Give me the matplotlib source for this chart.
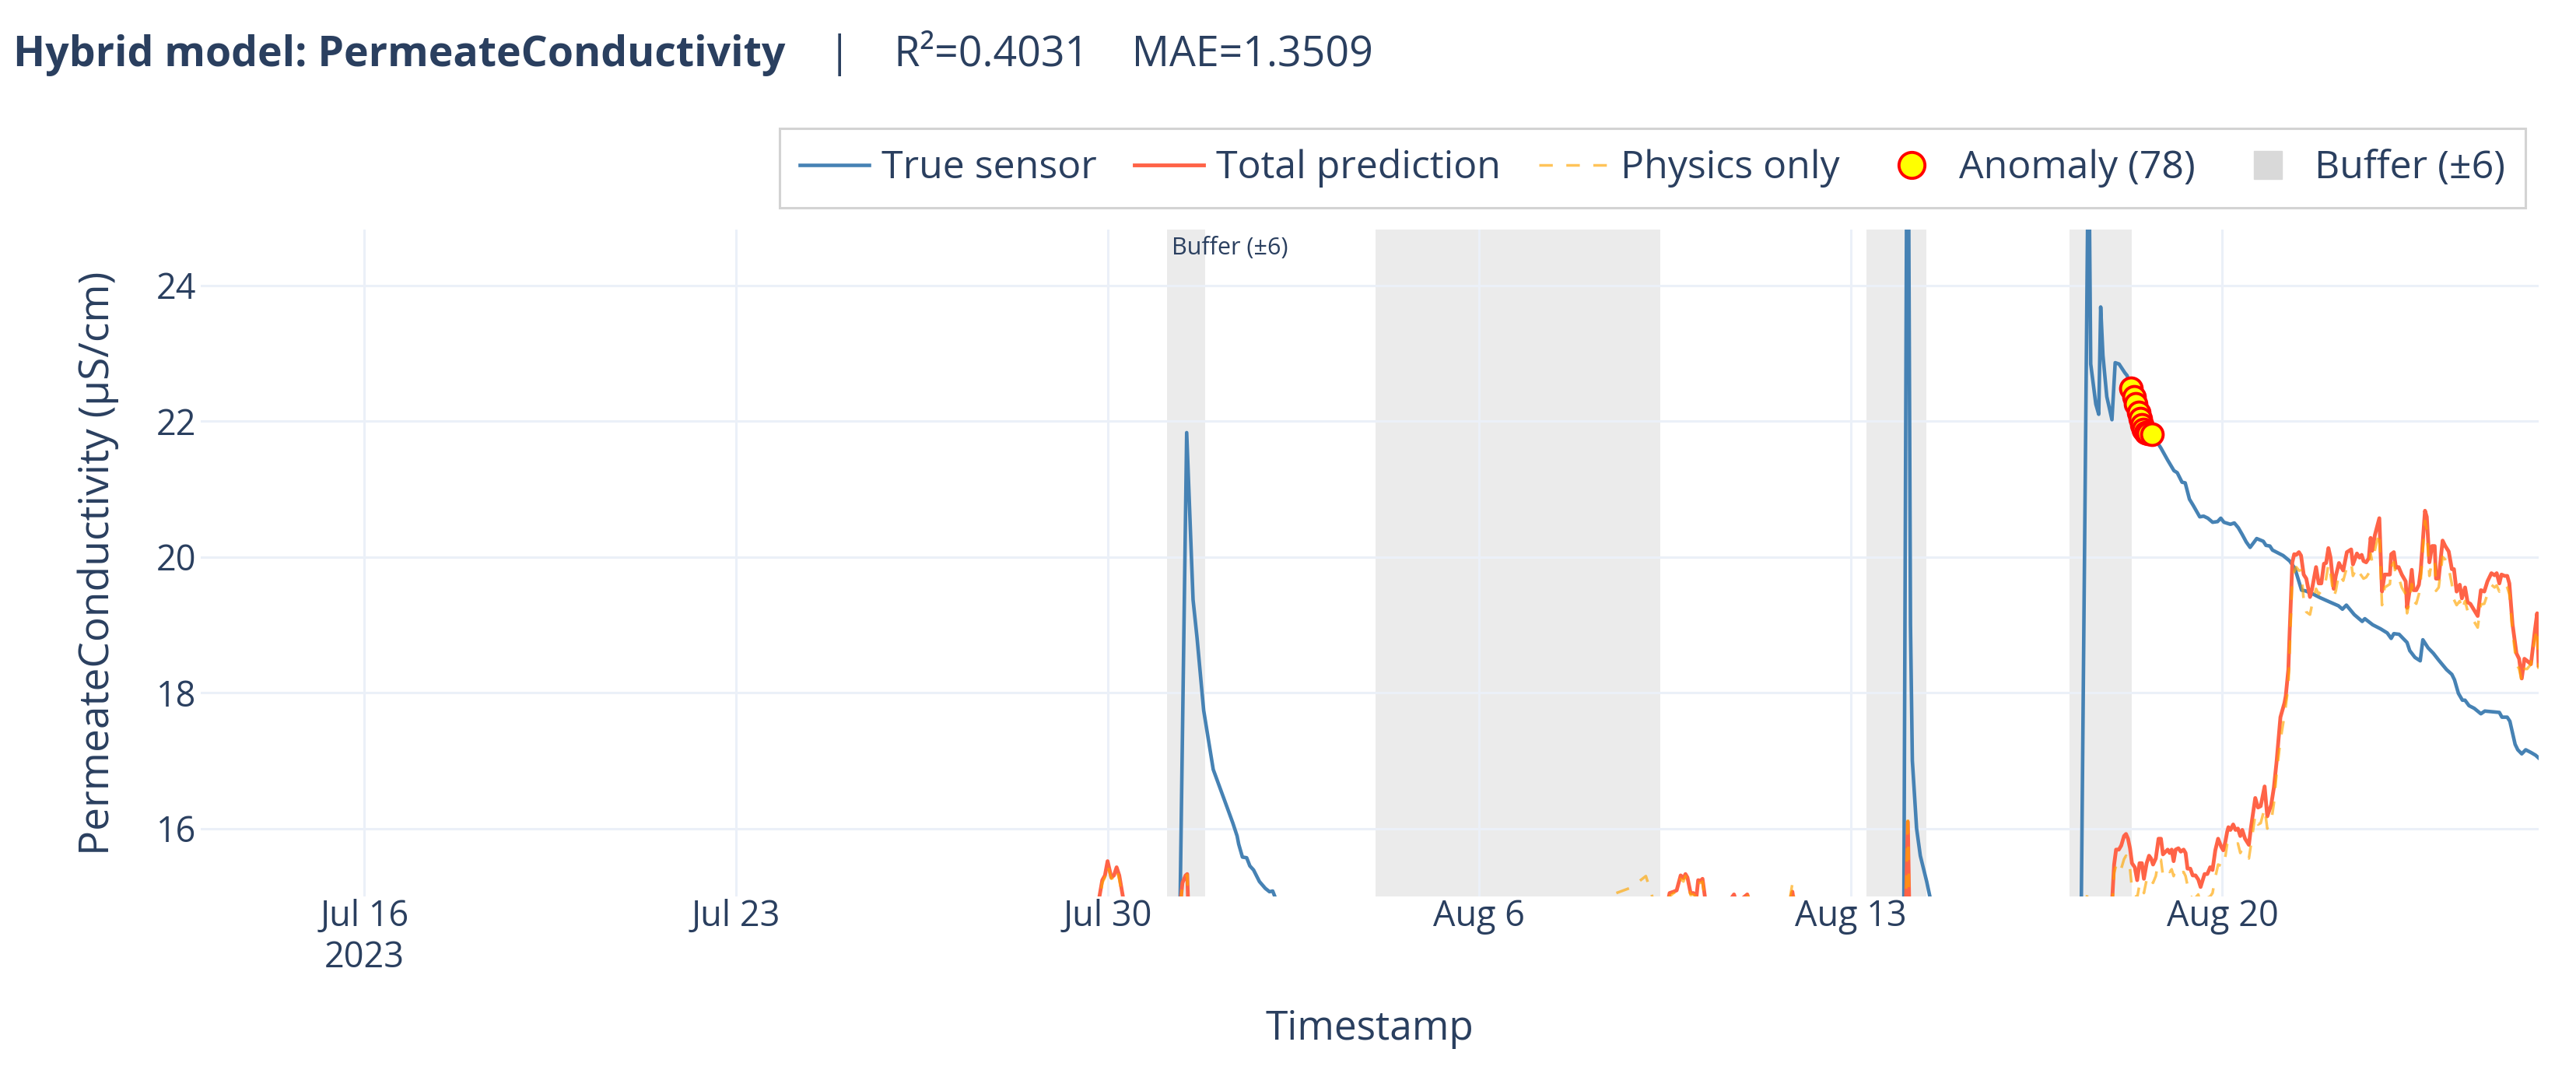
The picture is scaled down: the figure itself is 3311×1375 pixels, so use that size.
import matplotlib
matplotlib.use("Agg")
import matplotlib.pyplot as plt
import matplotlib.dates as mdates
from matplotlib.lines import Line2D
import pandas as pd

plt.rcParams['font.family'] = ['Open Sans', 'DejaVu Sans']

# ---------------- data (time = days after 2023-07-30 00:00) ----------------
T0 = pd.Timestamp('2023-07-30')

true_days = [-17.08, -10.0, -3.0, 1.33, 1.49, 1.61, 1.685, 1.81, 1.99, 2.07, 2.15, 2.29,
             2.36, 2.44, 2.47, 2.54, 2.62, 2.68, 2.75, 2.86, 2.97, 3.05, 3.11, 3.25,
             4.0, 8.0, 12.0, 14.9, 14.99, 15.07, 15.125, 15.16, 15.24, 15.31, 15.43,
             15.49, 15.6, 17.0, 18.33, 18.48, 18.52, 18.616, 18.671, 18.708, 18.75,
             18.823, 18.92, 18.981, 19.054, 19.164, 19.206, 19.285, 19.33, 19.37, 19.42,
             19.45, 19.49, 19.52, 19.56, 19.60, 19.674, 19.845, 19.966, 20.088, 20.15,
             20.24, 20.3, 20.38, 20.45, 20.574, 20.647, 20.726, 20.817, 20.909, 20.97,
             21.03, 21.152, 21.225, 21.30, 21.374, 21.45, 21.523, 21.647, 21.771, 21.821,
             21.895, 21.945, 22.07, 22.144, 22.268, 22.367, 22.492, 22.566, 22.69, 22.84,
             23.04, 23.187, 23.262, 23.336, 23.485, 23.634, 23.684, 23.833, 23.982, 24.106,
             24.18, 24.23, 24.33, 24.479, 24.53, 24.628, 24.727, 24.777, 24.876, 24.975,
             25.075, 25.224, 25.323, 25.373, 25.447, 25.522, 25.571, 25.646, 25.745, 25.87,
             25.944, 26.218, 26.267, 26.366, 26.416, 26.515, 26.565, 26.64, 26.714, 26.813,
             26.90, 26.957]
true_vals = [12.0, 12.5, 13.0, 12.9, 21.83, 19.37, 18.81, 17.74, 16.87, 16.7, 16.53, 16.23,
             16.08, 15.89, 15.77, 15.58, 15.57, 15.45, 15.39, 15.22, 15.12, 15.07, 15.08, 14.8,
             14.0, 13.5, 13.2, 13.0, 12.8, 29.0, 19.0, 17.0, 16.0, 15.6, 15.22,
             15.0, 14.5, 13.5, 13.8, 26.5, 22.84, 22.25, 22.10, 23.68, 22.97,
             22.36, 22.02, 22.86, 22.84, 22.71, 22.67, 22.48, 22.36, 22.25, 22.13,
             22.04, 21.94, 21.87, 21.83, 21.82, 21.81, 21.6, 21.43, 21.27, 21.24,
             21.1, 21.09, 20.85, 20.76, 20.59, 20.6, 20.57, 20.51, 20.52, 20.57,
             20.51, 20.48, 20.5, 20.43, 20.33, 20.22, 20.14, 20.27, 20.23, 20.17,
             20.16, 20.10, 20.05, 20.02, 19.94, 19.83, 19.51, 19.50, 19.46, 19.40,
             19.33, 19.28, 19.23, 19.29, 19.15, 19.05, 19.09, 19.00, 18.94, 18.88,
             18.80, 18.87, 18.86, 18.74, 18.62, 18.52, 18.47, 18.78, 18.66, 18.58,
             18.48, 18.34, 18.27, 18.19, 17.99, 17.89, 17.89, 17.81, 17.77, 17.69,
             17.73, 17.71, 17.64, 17.64, 17.58, 17.24, 17.16, 17.10, 17.16, 17.12,
             17.08, 17.04]

pred_days = [-17.08, -12.0, -6.0, -1.0, -0.22, -0.10, -0.05, 0.0, 0.07, 0.12, 0.17, 0.22,
             0.31, 0.60, 1.20, 1.36, 1.41, 1.47, 1.50, 1.53, 2.50, 5.00, 9.20, 9.41,
             9.86, 10.14, 10.25, 10.35, 10.50, 10.587, 10.662, 10.72, 10.796, 10.848, 10.886, 10.923,
             10.983, 11.035, 11.095, 11.125, 11.17, 11.207, 11.26, 11.50, 11.80, 11.85, 12.05, 12.10,
             12.85, 12.90, 12.95, 14.90, 15.03, 15.075, 15.11, 16.00, 18.30, 18.47, 18.50, 18.88,
             18.90, 18.961, 18.998, 19.05, 19.095, 19.148, 19.185, 19.223, 19.26, 19.297, 19.35, 19.395,
             19.44, 19.484, 19.522, 19.574, 19.619, 19.656, 19.694, 19.746, 19.798, 19.843, 19.881, 19.933,
             19.97, 20.008, 20.045, 20.082, 20.12, 20.172, 20.217, 20.27, 20.307, 20.344, 20.396, 20.441,
             20.494, 20.546, 20.59, 20.665, 20.717, 20.77, 20.815, 20.867, 20.92, 20.98, 21.017, 21.055,
             21.09, 21.114, 21.152, 21.204, 21.248, 21.293, 21.338, 21.375, 21.428, 21.50, 21.54, 21.62,
             21.672, 21.722, 21.796, 21.846, 21.92, 21.97, 22.02, 22.094, 22.17, 22.194, 22.243, 22.268,
             22.318, 22.353, 22.392, 22.442, 22.482, 22.532, 22.581, 22.651, 22.69, 22.765, 22.815, 22.864,
             22.914, 22.954, 22.998, 23.038, 23.098, 23.137, 23.197, 23.237, 23.277, 23.346, 23.426, 23.46,
             23.535, 23.585, 23.624, 23.659, 23.709, 23.758, 23.793, 23.823, 23.873, 23.957, 24.007, 24.057,
             24.156, 24.181, 24.23, 24.27, 24.32, 24.38, 24.454, 24.479, 24.529, 24.568, 24.603, 24.653,
             24.702, 24.737, 24.777, 24.817, 24.851, 24.90, 24.951, 25.00, 25.025, 25.075, 25.149, 25.199,
             25.264, 25.323, 25.363, 25.413, 25.472, 25.512, 25.572, 25.621, 25.671, 25.74, 25.81, 25.87,
             25.934, 25.994, 26.068, 26.128, 26.168, 26.218, 26.258, 26.317, 26.367, 26.406, 26.466, 26.54,
             26.59, 26.64, 26.69, 26.74, 26.813, 26.888, 26.93, 26.957]
total_vals = [13.2, 13.6, 13.9, 14.2, 14.7, 15.24, 15.31, 15.52, 15.28, 15.31, 15.43, 15.31,
              14.90, 14.30, 14.20, 14.80, 15.20, 15.31, 15.33, 14.60, 14.00, 14.10, 14.50, 14.70,
              14.80, 14.85, 14.80, 14.60, 14.70, 15.05, 15.07, 15.09, 15.31, 15.27, 15.33, 15.28,
              15.05, 15.05, 15.01, 15.24, 15.23, 15.26, 14.95, 14.70, 15.03, 14.90, 15.03, 14.90,
              14.90, 15.07, 14.80, 14.50, 14.60, 16.10, 14.50, 14.20, 14.30, 14.60, 14.40, 14.30,
              14.60, 15.47, 15.69, 15.69, 15.75, 15.89, 15.92, 15.85, 15.71, 15.49, 15.43, 15.24,
              15.49, 15.49, 15.26, 15.49, 15.60, 15.56, 15.47, 15.56, 15.85, 15.85, 15.62, 15.66,
              15.69, 15.64, 15.69, 15.52, 15.69, 15.71, 15.66, 15.69, 15.64, 15.41, 15.41, 15.31,
              15.31, 15.25, 15.14, 15.33, 15.33, 15.43, 15.39, 15.68, 15.85, 15.73, 15.68, 15.80,
              15.95, 16.02, 15.98, 16.06, 15.98, 16.00, 15.89, 15.98, 15.85, 15.76, 16.02, 16.45,
              16.31, 16.33, 16.62, 16.18, 16.35, 16.60, 16.97, 17.64, 17.85, 17.95, 18.34, 18.90,
              19.92, 20.04, 20.03, 20.07, 20.02, 19.74, 19.68, 19.41, 19.53, 19.85, 19.61, 19.61,
              19.90, 19.91, 20.13, 19.99, 19.53, 19.72, 19.91, 19.85, 19.80, 20.07, 20.11, 19.89,
              20.05, 19.99, 20.03, 19.94, 19.92, 19.98, 20.28, 20.09, 20.32, 20.57, 19.49, 19.74,
              19.74, 20.04, 20.07, 19.84, 19.85, 19.74, 19.64, 19.25, 19.51, 19.81, 19.51, 19.51,
              19.59, 19.80, 20.24, 20.68, 20.59, 19.92, 20.16, 20.16, 19.68, 19.68, 20.24, 20.16,
              20.08, 19.82, 19.82, 19.49, 19.59, 19.39, 19.55, 19.33, 19.31, 19.22, 19.13, 19.51,
              19.49, 19.64, 19.76, 19.73, 19.76, 19.61, 19.74, 19.72, 19.72, 19.61, 19.01, 18.58,
              18.50, 18.21, 18.50, 18.47, 18.42, 18.92, 19.17, 18.40]
phys_vals = [13.1, 13.5, 13.8, 14.1, 14.6, 15.20, 15.28, 15.46, 15.26, 15.28, 15.40, 15.25,
             14.85, 14.25, 14.15, 14.75, 15.18, 15.28, 15.32, 14.55, 13.95, 14.10, 14.70, 15.00,
             15.13, 15.30, 15.03, 14.70, 14.60, 15.00, 15.05, 15.07, 15.26, 15.22, 15.30, 15.22,
             15.02, 15.03, 14.98, 15.20, 15.20, 15.22, 14.90, 14.65, 15.02, 14.85, 15.05, 14.85,
             14.95, 15.19, 14.85, 14.50, 14.60, 16.22, 14.50, 14.10, 14.30, 15.10, 14.40, 14.20,
             14.50, 15.35, 15.45, 15.35, 15.41, 15.55, 15.60, 15.50, 15.41, 15.12, 15.05, 14.98,
             15.18, 15.18, 15.05, 15.25, 15.31, 15.24, 15.20, 15.30, 15.54, 15.54, 15.31, 15.38,
             15.40, 15.36, 15.40, 15.30, 15.41, 15.39, 15.35, 15.36, 15.30, 15.16, 15.00, 14.98,
             14.98, 15.03, 14.90, 14.98, 14.98, 15.00, 15.05, 15.28, 15.47, 15.45, 15.43, 15.58,
             15.77, 15.80, 15.76, 15.80, 15.77, 15.78, 15.64, 15.70, 15.60, 15.56, 15.77, 16.20,
             16.06, 16.08, 16.30, 16.00, 16.10, 16.37, 16.80, 17.30, 17.67, 17.80, 18.10, 18.60,
             19.70, 19.78, 19.85, 19.80, 19.80, 19.37, 19.19, 19.15, 19.30, 19.53, 19.45, 19.50,
             19.53, 19.68, 19.90, 19.75, 19.41, 19.50, 19.76, 19.70, 19.65, 19.85, 19.92, 19.72,
             19.85, 19.76, 19.72, 19.68, 19.70, 19.76, 20.05, 19.92, 20.10, 20.37, 19.29, 19.55,
             19.60, 19.85, 19.92, 19.70, 19.70, 19.55, 19.45, 19.17, 19.35, 19.60, 19.35, 19.31,
             19.45, 19.65, 20.10, 20.53, 20.40, 19.72, 19.95, 19.95, 19.50, 19.55, 20.00, 19.96,
             19.84, 19.60, 19.37, 19.29, 19.35, 19.21, 19.35, 19.20, 19.15, 19.05, 18.96, 19.30,
             19.31, 19.45, 19.59, 19.55, 19.58, 19.49, 19.55, 19.61, 19.55, 19.45, 18.90, 18.42,
             18.35, 18.17, 18.35, 18.35, 18.42, 18.80, 18.95, 18.35]

anom_days = [19.285, 19.33, 19.37, 19.42, 19.45, 19.49, 19.52, 19.56, 19.60, 19.674]
anom_vals = [22.48, 22.36, 22.25, 22.13, 22.04, 21.94, 21.87, 21.83, 21.82, 21.81]

buffer_start = ['2023-07-31 03:00', '2023-08-04 01:00', '2023-08-13 07:00', '2023-08-17 03:00']
buffer_end = ['2023-07-31 20:00', '2023-08-09 10:00', '2023-08-14 10:00', '2023-08-18 07:00']

tick_dates = ['2023-07-16', '2023-07-23', '2023-07-30', '2023-08-06', '2023-08-13', '2023-08-20']
tick_labels = ['Jul 16\n2023', 'Jul 23', 'Jul 30', 'Aug 6', 'Aug 13', 'Aug 20']
y_ticks = [16, 18, 20, 22, 24]

TXT = '#2a3f5f'
W, H = 3311, 1375


def to_time(days):
    return T0 + pd.to_timedelta(days, unit='D')


fig = plt.figure(figsize=(W / 100, H / 100), dpi=100)
ax = fig.add_axes([258 / W, 1 - 1152 / H, (3263 - 258) / W, (1152 - 295) / H])

for s, e in zip(buffer_start, buffer_end):
    ax.axvspan(pd.Timestamp(s), pd.Timestamp(e), facecolor='lightgrey', alpha=0.45, lw=0, zorder=0.3)

ax.plot(to_time(true_days), true_vals, color='#4682B4', lw=3.3, zorder=3)
ax.plot(to_time(pred_days), total_vals, color='#FF6347', lw=3.5, zorder=3)
ax.plot(to_time(pred_days), phys_vals, color='#FFA500', alpha=0.65, lw=2.5, dashes=(5, 5), zorder=4)
ax.plot(to_time(anom_days), anom_vals, 'o', ms=20, mfc='yellow', mec='red', mew=2.8, ls='none', zorder=5)

ax.annotate('Buffer (±6)', xy=(mdates.date2num(pd.Timestamp(buffer_start[0])), 1),
            xycoords=('data', 'axes fraction'), xytext=(4, -17), textcoords='offset points',
            ha='left', va='center', fontsize=22, color=TXT)

ax.set_xlim(pd.Timestamp('2023-07-12 22:00'), pd.Timestamp('2023-08-25 23:00'))
ax.set_ylim(15.0, 24.82)
ax.set_xticks([pd.Timestamp(d) for d in tick_dates])
ax.set_xticklabels(tick_labels)
ax.set_yticks(y_ticks)
ax.grid(True, color='#EBF0F8', lw=2.2)
ax.set_axisbelow(True)
for sp in ax.spines.values():
    sp.set_visible(False)
ax.tick_params(axis='both', length=0, labelsize=32.4, labelcolor=TXT)
ax.tick_params(axis='x', pad=2)
ax.tick_params(axis='y', pad=4)

# axis titles
fig.text(1760 / W, 1 - 1323 / H, 'Timestamp', ha='center', va='center', fontsize=37, color=TXT)
fig.text(126 / W, 1 - 724 / H, 'PermeateConductivity (µS/cm)', ha='center', va='center',
         rotation=90, fontsize=38.3, color=TXT)

# title in two pieces (bold + plain)
renderer = fig.canvas.get_renderer()
t1 = fig.text(17 / W, 1 - 85 / H, 'Hybrid model: PermeateConductivity', fontsize=38.6,
              fontweight='bold', color=TXT, va='baseline')
bb = t1.get_window_extent(renderer)
fig.text(bb.x1 / W, 1 - 85 / H, '    |    R²=0.4031    MAE=1.3509', fontsize=38.6,
         color=TXT, va='baseline')

# legend
handles = [
    Line2D([], [], color='#4682B4', lw=3.3, label='True sensor'),
    Line2D([], [], color='#FF6347', lw=3.5, label='Total prediction'),
    Line2D([], [], color='#FFA500', alpha=0.65, lw=2.5, dashes=(5, 5), label='Physics only'),
    Line2D([], [], marker='o', ms=24, mfc='yellow', mec='red', mew=2.8, ls='none', label='Anomaly (78)'),
    Line2D([], [], marker='s', ms=26, color='#D9D9D9', ls='none', label='Buffer (±6)'),
]
leg = fig.legend(handles=handles, loc='upper right', bbox_to_anchor=(3246 / W, 1 - 165 / H),
                 ncol=5, fontsize=36, frameon=True, fancybox=False, edgecolor='#D3D3D3',
                 framealpha=1, handlelength=1.78, handletextpad=0.32, columnspacing=0.97,
                 borderpad=0.52, borderaxespad=0, labelcolor=TXT)
leg.get_frame().set_linewidth(2.2)

fig.savefig('out.png', dpi=100)
